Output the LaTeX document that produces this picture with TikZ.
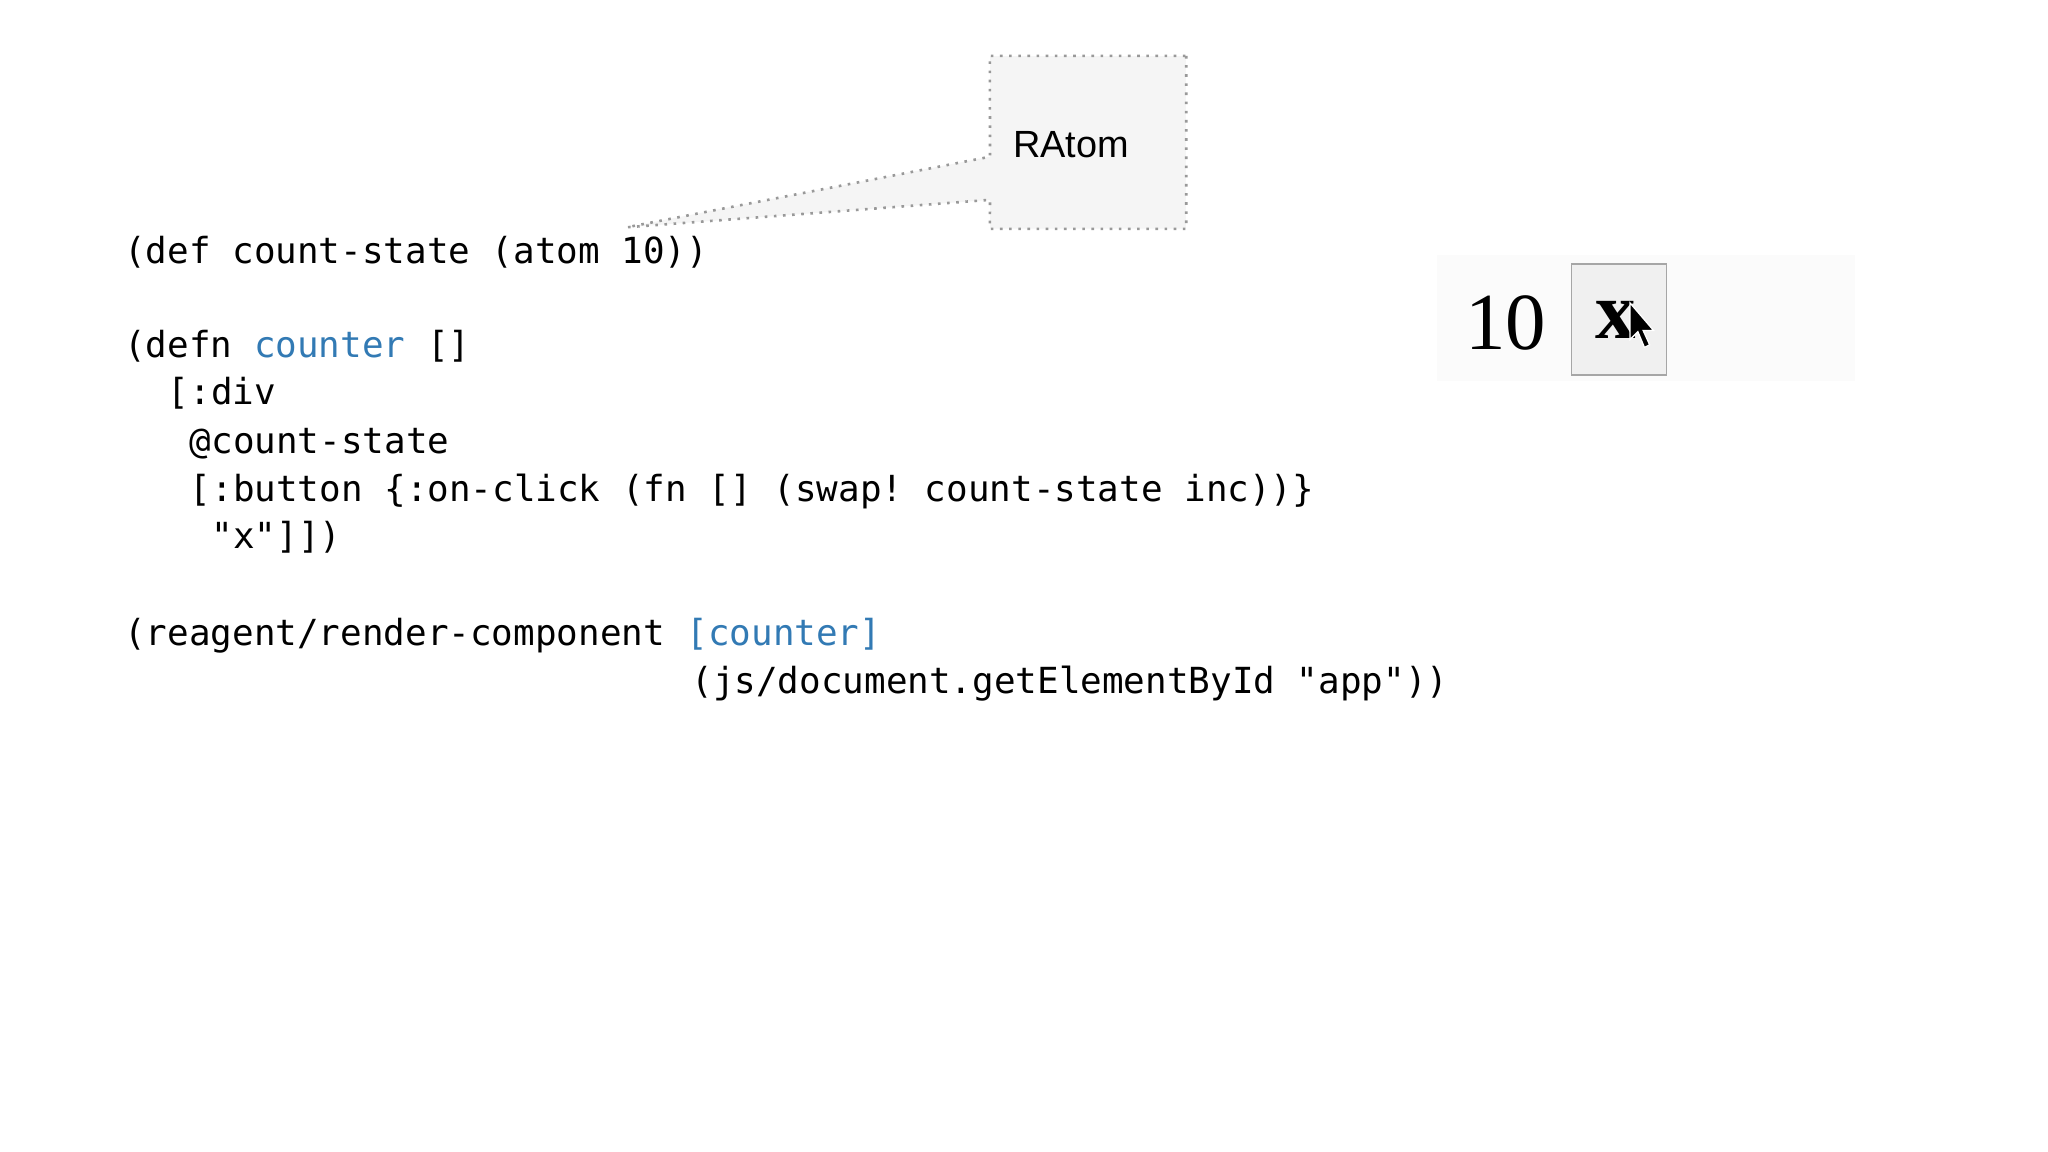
\documentclass[tikz,border=0pt]{standalone}
\usepackage{fontspec}
\setmonofont{DejaVu Sans Mono}
\newfontfamily\lsans{Liberation Sans}
\newfontfamily\lserif{Liberation Serif}
\definecolor{kw}{RGB}{50,122,180}
\begin{document}
\begin{tikzpicture}[x=1pt,y=-1pt,
  code/.style={anchor=base west,inner sep=0pt,font=\ttfamily\fontsize{27.5}{30}\selectfont},
  dotb/.style={draw=gray!80,line width=2pt,dash pattern=on 2pt off 5pt}]
\useasboundingbox (0,0) rectangle (1568,882);
\fill[white] (0,0) rectangle (1568,882);
% code
\def\cw{16.7}
\node[code] (l1) at (95,202) {(def count-state (atom 10))};
\node[code] (l2) at (95,274) {(defn \textcolor{kw}{counter} [\kern0pt]};
\node[code] (l3) at (95+2*\cw,310) {[:div};
\node[code] (l4) at (95+3*\cw,347) {@count-state};
\node[code] (l5) at (95+3*\cw,384) {[:button \{:on-click (fn [\kern0pt] (swap! count-state inc))\}};
\node[code] (l6) at (95+4*\cw,420) {"x"]])};
\node[code] (l7) at (95,494) {(reagent/render-component \textcolor{kw}{[counter]}};
\node[code] (l8) at (95+26*\cw,531) {(js/document.getElementById "app"))};
% callout
\coordinate (tip) at (480,174);
\fill[gray!8] (tip) -- (758,120) -- (758,43) -- (908,43) -- (908,175) -- (758,175) -- (758,153) -- cycle;
\node[inner sep=0pt,minimum width=150pt,minimum height=132pt] (ratom) at (833,109) {};
\draw[dotb] (ratom.north east) -- (ratom.south east) -- (ratom.south west) -- (758,153) -- (tip) -- (758,120) -- (ratom.north west) -- cycle;
\node[font=\lsans\fontsize{29}{30}\selectfont] (rt) at (820,111) {RAtom};
% widget
\fill[gray!3] (1100,195) rectangle (1420,292);
\node[font=\lserif\fontsize{62}{62}\selectfont,inner sep=0pt] (ten) at (1153,247) {10};
\node[draw=gray!70,line width=1.2pt,fill=gray!12,minimum width=73pt,minimum height=85pt,inner sep=0pt] (btn) at (1239.5,244.5) {};
\node[font=\lserif\bfseries\fontsize{62}{62}\selectfont,inner sep=0pt] (bx) at (1237,245) {x};
\draw[fill=black,draw=white,line width=1pt] (1248,232) -- (1248,260) -- (1254,254) -- (1259,266) -- (1263,264) -- (1258,253) -- (1266,253) -- cycle;
\end{tikzpicture}
\end{document}
